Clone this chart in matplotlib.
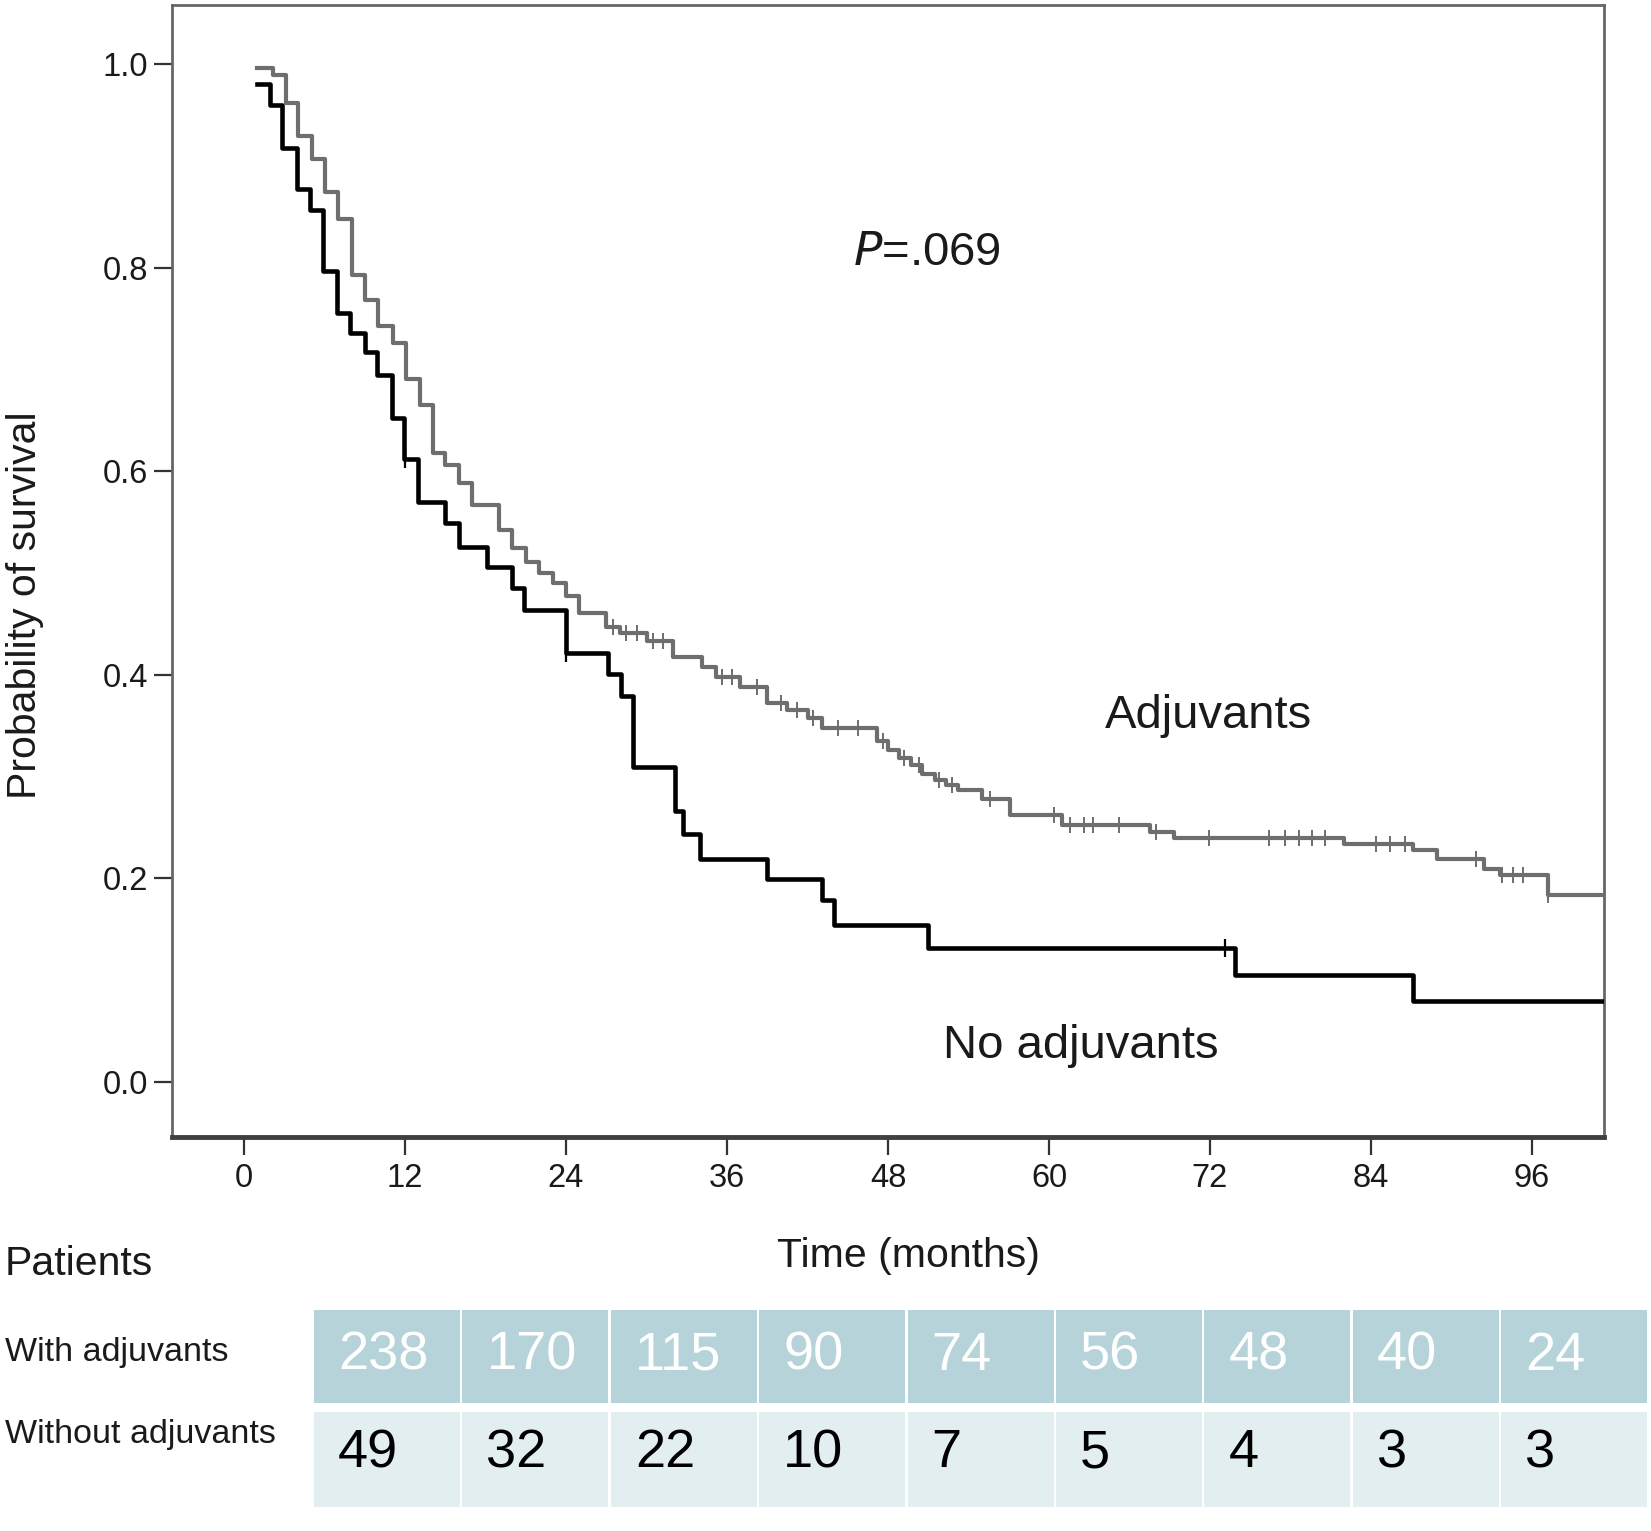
import numpy as np
import matplotlib
matplotlib.use('agg')
import matplotlib.pyplot as plt
from matplotlib.patches import Rectangle

plt.rcParams['font.family'] = ['Liberation Sans', 'DejaVu Sans']

# Kaplan-Meier steps (months, survival)
adj_t = [0.94, 2.18, 3.13, 4.05, 5.04, 6.04, 7.03, 8.02, 9.02, 10.0, 11.1, 12.1,
         13.1, 14.1, 15.0, 16.0, 17.0, 19.0, 20.0, 21.0, 22.0, 23.0, 24.0, 25.0,
         27.0, 28.0, 30.0, 32.0, 34.1, 35.2, 37.0, 39.0, 40.5, 42.0, 43.1, 47.2,
         48.0, 48.8, 49.7, 50.5, 51.5, 52.3, 53.2, 55.0, 57.1, 61.0, 67.5, 69.3,
         82.0, 87.1, 88.9, 92.4, 93.6, 97.2, 101.5]
adj_s = [0.996, 0.989, 0.962, 0.929, 0.907, 0.874, 0.848, 0.793, 0.768, 0.743, 0.726, 0.691,
         0.665, 0.618, 0.606, 0.588, 0.567, 0.542, 0.525, 0.511, 0.500, 0.490, 0.477, 0.461,
         0.447, 0.441, 0.433, 0.418, 0.408, 0.398, 0.388, 0.372, 0.365, 0.358, 0.348, 0.335,
         0.326, 0.318, 0.311, 0.303, 0.297, 0.292, 0.287, 0.278, 0.262, 0.252, 0.246, 0.240,
         0.234, 0.228, 0.219, 0.209, 0.203, 0.184, 0.184]
adj_cens = [27.5, 28.5, 29.3, 30.5, 31.2, 35.6, 36.4, 38.2, 40.0, 41.2, 42.4, 44.3, 45.8,
            47.6, 49.2, 50.3, 51.8, 52.8, 55.6, 60.4, 61.6, 62.6, 63.3, 65.2, 68.0, 71.9,
            76.4, 77.6, 78.6, 79.6, 80.6, 84.4, 85.4, 86.5, 91.8, 93.8, 94.6, 95.3, 97.2]

noadj_t = [0.94, 1.93, 2.81, 3.93, 4.92, 5.91, 6.9, 7.9, 9.0, 9.9, 11.0, 11.95, 13.0,
           15.0, 16.0, 18.1, 20.0, 20.9, 24.0, 27.1, 28.1, 29.0, 32.1, 32.7, 34.0,
           39.0, 43.1, 44.0, 51.0, 73.9, 87.1, 101.5]
noadj_s = [0.980, 0.960, 0.918, 0.877, 0.857, 0.797, 0.755, 0.736, 0.717, 0.695, 0.652, 0.612, 0.570,
           0.549, 0.526, 0.506, 0.485, 0.464, 0.421, 0.401, 0.379, 0.309, 0.266, 0.244, 0.219,
           0.199, 0.179, 0.154, 0.132, 0.105, 0.080, 0.080]
noadj_cens = [12.0, 24.0, 73.1]

# patients at risk table
with_adj = [238, 170, 115, 90, 74, 56, 48, 40, 24]
without_adj = [49, 32, 22, 10, 7, 5, 4, 3, 3]

W, H = 1651, 1531
fig = plt.figure(figsize=(W / 100, H / 100), dpi=100)
ax = fig.add_axes([172 / W, 1 - 1137 / H, 1432 / W, 1132 / H])

gray = '#6e6e6e'


def on_curve(times, t, s):
    idx = np.searchsorted(t, times, side='right') - 1
    return np.array(s)[idx]


ax.step(adj_t, adj_s, where='post', color=gray, lw=3.0, zorder=3)
ax.plot(adj_cens, on_curve(adj_cens, adj_t, adj_s), ls='none', marker='|',
        ms=11, mew=1.4, color=gray, zorder=3)
ax.step(noadj_t, noadj_s, where='post', color='black', lw=3.3, zorder=4)
ax.plot(noadj_cens, on_curve(noadj_cens, noadj_t, noadj_s), ls='none', marker='|',
        ms=13, mew=1.6, color='black', zorder=4)

ax.set_xlim(-5.37, 101.37)
ax.set_ylim(-0.054, 1.058)
ax.set_xticks(range(0, 97, 12))
ax.set_yticks(np.arange(0, 1.01, 0.2))
ax.set_yticklabels(['%.1f' % v for v in np.arange(0, 1.01, 0.2)])
ax.tick_params(axis='both', direction='out', length=13, width=1.6, color='#333333',
               labelsize=23.5, labelcolor='#1a1a1a')
ax.tick_params(axis='x', pad=6)
ax.tick_params(axis='y', pad=4)

for side in ['left', 'top', 'right']:
    ax.spines[side].set_color('#666666')
    ax.spines[side].set_linewidth(2.0)
ax.spines['bottom'].set_color('#404040')
ax.spines['bottom'].set_linewidth(3.5)

ax.set_ylabel('Probability of survival', fontsize=29.5, color='#1a1a1a', va='center')
ax.yaxis.set_label_coords(-0.103, 0.47)

ax.text(50.9, 0.814, r'$\it{P}$' + '=.069', fontsize=34, ha='center', va='center', color='#1a1a1a')
ax.text(71.9, 0.36, 'Adjuvants', fontsize=34, ha='center', va='center', color='#1a1a1a')
ax.text(62.4, 0.035, 'No adjuvants', fontsize=34, ha='center', va='center', color='#1a1a1a')

fig.text(908 / W, 1 - 1256 / H, 'Time (months)', fontsize=29.5, ha='center', va='center', color='#1a1a1a')
fig.text(5 / W, 1 - 1264 / H, 'Patients', fontsize=29.5, ha='left', va='center', color='#1a1a1a')
fig.text(5 / W, 1 - 1353 / H, 'With adjuvants', fontsize=24.5, ha='left', va='center', color='#1a1a1a')
fig.text(5 / W, 1 - 1435 / H, 'Without adjuvants', fontsize=24.5, ha='left', va='center', color='#1a1a1a')

# at-risk table drawn in pixel space
tax = fig.add_axes([0, 0, 1, 1], zorder=-1)
tax.set_xlim(0, W)
tax.set_ylim(H, 0)
tax.axis('off')
x0, pitch, cw = 314, 148.4, 146
for i, (a, b) in enumerate(zip(with_adj, without_adj)):
    xl = x0 + i * pitch
    tax.add_patch(Rectangle((xl, 1310), cw, 93, facecolor='#b5d3d8', edgecolor='none'))
    tax.add_patch(Rectangle((xl, 1412), cw, 95, facecolor='#e3eef1', edgecolor='none'))
    tax.text(xl + 24, 1356, str(a), fontsize=39, color='white', ha='left', va='center')
    tax.text(xl + 24, 1453, str(b), fontsize=39, color='black', ha='left', va='center')

fig.savefig('out.png', dpi=100)
